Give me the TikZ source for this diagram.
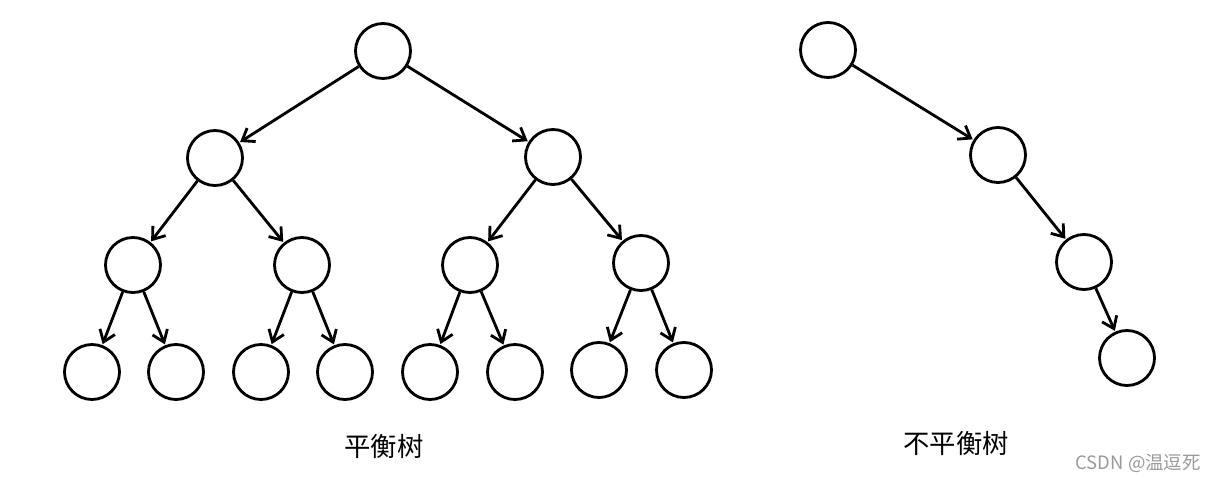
\documentclass[tikz,border=0pt]{standalone}
\usepackage{fontspec}
\usepackage{tikz}
\usetikzlibrary{arrows.meta}
\newfontfamily\cjkfont{Noto Sans CJK SC}
\definecolor{markgray}{HTML}{9A9A9A}

\begin{document}
\begin{tikzpicture}[
  x=0.02cm, y=-0.02cm,
  treenode/.style={
    circle, draw=black, line width=1.6pt, fill=white,
    minimum size=1.1cm, inner sep=0pt
  },
  link/.style={
    -{Straight Barb[length=2.2mm, width=3.2mm, line width=1.6pt]},
    line width=1.6pt, shorten >=0.5pt
  },
  caption/.style={
    font=\cjkfont\fontsize{15}{18}\selectfont, text=black
  },
  watermark/.style={
    font=\cjkfont\fontsize{10.5}{12}\selectfont, text=markgray, anchor=east
  }
]
\useasboundingbox (0,0) rectangle (1219,482);

% Balanced tree
\node[treenode] (root) at (383,51) {};
\node[treenode] (l) at (215,158) {};
\node[treenode] (r) at (553,157) {};
\node[treenode] (ll) at (133,265) {};
\node[treenode] (lr) at (302,265) {};
\node[treenode] (rl) at (470,265) {};
\node[treenode] (rr) at (641,263) {};
\node[treenode] (lll) at (92,372) {};
\node[treenode] (llr) at (176,372) {};
\node[treenode] (lrl) at (261,372) {};
\node[treenode] (lrr) at (345,372) {};
\node[treenode] (rll) at (430,372) {};
\node[treenode] (rlr) at (515,372) {};
\node[treenode] (rrl) at (599,370) {};
\node[treenode] (rrr) at (684,370) {};

\draw[link] (root) -- (l);
\draw[link] (root) -- (r);
\draw[link] (l) -- (ll);
\draw[link] (l) -- (lr);
\draw[link] (r) -- (rl);
\draw[link] (r) -- (rr);
\draw[link] (ll) -- (lll);
\draw[link] (ll) -- (llr);
\draw[link] (lr) -- (lrl);
\draw[link] (lr) -- (lrr);
\draw[link] (rl) -- (rll);
\draw[link] (rl) -- (rlr);
\draw[link] (rr) -- (rrl);
\draw[link] (rr) -- (rrr);

% Unbalanced tree
\node[treenode] (u1) at (828,50) {};
\node[treenode] (u2) at (998,155) {};
\node[treenode] (u3) at (1084,262) {};
\node[treenode] (u4) at (1127,358) {};

\draw[link] (u1) -- (u2);
\draw[link] (u2) -- (u3);
\draw[link] (u3) -- (u4);

% Captions
\node[caption] (capA) at (384,446) {平衡树};
\node[caption] (capB) at (956,443) {不平衡树};
\node[watermark] (mark) at (1207,463) {CSDN @温逗死};

\end{tikzpicture}
\end{document}
